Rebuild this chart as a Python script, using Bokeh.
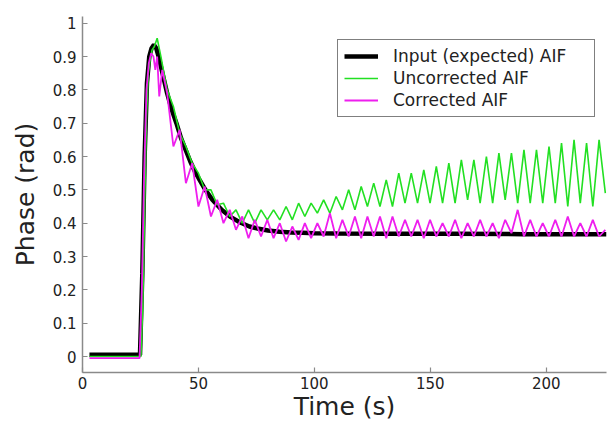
from bokeh.plotting import figure
from bokeh.models import Range1d, FixedTicker, CustomJSTickFormatter, Legend, LegendItem
from bokeh.embed import file_html
from bokeh.resources import INLINE

# ---------------- data ----------------
x_ticks = [0, 50, 100, 150, 200]
y_ticks = [0, 0.1, 0.2, 0.3, 0.4, 0.5, 0.6, 0.7, 0.8, 0.9, 1.0]

# Input (expected) AIF
t_expected = [3, 24.8, 25.8, 26.8, 27.8, 28.8, 29.8, 30.8, 31.8, 33, 34.5, 36.5, 38.5,
              40.5, 42.5, 44.5, 46.5, 48.5, 50.5, 53, 56, 60, 64, 68, 72, 76, 80, 85,
              90, 95, 100, 110, 130, 160, 190, 226]
y_expected = [0.005, 0.005, 0.25, 0.6, 0.82, 0.9, 0.925, 0.935, 0.925, 0.895, 0.85, 0.79,
              0.74, 0.70, 0.655, 0.62, 0.585, 0.555, 0.53, 0.50, 0.47, 0.44, 0.418, 0.402,
              0.39, 0.383, 0.378, 0.374, 0.372, 0.371, 0.37, 0.369, 0.368, 0.368, 0.367, 0.367]

# sampling times of the oscillating part
t_grid = [33.8, 36.5, 39.2, 41.9, 44.6, 47.3, 50.0, 52.7, 55.4, 58.1, 60.8, 63.5, 66.2,
          68.9, 71.6, 74.3, 77.0, 79.7, 82.4, 85.1, 87.8, 90.5, 93.2, 95.9, 98.6, 101.3,
          104.0, 106.7, 109.4, 112.1, 114.8, 117.5, 120.2, 122.9, 125.6, 128.3, 131.0,
          133.7, 136.4, 139.1, 141.8, 144.5, 147.2, 149.9, 152.6, 155.3, 158.0, 160.7,
          163.4, 166.1, 168.8, 171.5, 174.2, 176.9, 179.6, 182.3, 185.0, 187.7, 190.4,
          193.1, 195.8, 198.5, 201.2, 203.9, 206.6, 209.3, 212.0, 214.7, 217.4, 220.1,
          222.8, 225.5]

# Uncorrected AIF
t_uncorr_start = [3, 25.2, 26.0, 26.8, 27.6, 28.4, 29.2, 30.0, 31.0, 32.2]
y_uncorr_start = [0.0, 0.0, 0.15, 0.45, 0.72, 0.85, 0.89, 0.92, 0.93, 0.955]
y_uncorr_grid = [0.90, 0.80, 0.75, 0.67, 0.63, 0.58, 0.55, 0.50, 0.50, 0.455, 0.46, 0.42,
                 0.44, 0.40, 0.44, 0.40, 0.44, 0.41, 0.44, 0.41, 0.45, 0.41, 0.46, 0.42,
                 0.46, 0.43, 0.47, 0.43, 0.48, 0.44, 0.50, 0.44, 0.51, 0.45, 0.52, 0.45,
                 0.53, 0.45, 0.55, 0.46, 0.55, 0.46, 0.56, 0.46, 0.57, 0.46, 0.58, 0.46,
                 0.59, 0.47, 0.59, 0.46, 0.60, 0.46, 0.61, 0.47, 0.61, 0.46, 0.62, 0.46,
                 0.62, 0.46, 0.63, 0.46, 0.64, 0.45, 0.65, 0.46, 0.64, 0.45, 0.65, 0.49]

# Corrected AIF
t_corr_start = [3, 24.6, 25.6, 26.6, 27.6, 28.6, 29.6, 30.6, 31.4, 32.2, 33.1, 34.4]
y_corr_start = [-0.005, -0.005, 0.2, 0.55, 0.80, 0.88, 0.91, 0.90, 0.86, 0.90, 0.78, 0.86]
y_corr_grid = [0.79, 0.63, 0.68, 0.52, 0.58, 0.45, 0.51, 0.42, 0.47, 0.40, 0.44, 0.38,
               0.42, 0.355, 0.41, 0.36, 0.41, 0.355, 0.40, 0.345, 0.39, 0.35, 0.40, 0.355,
               0.40, 0.36, 0.43, 0.355, 0.41, 0.36, 0.42, 0.355, 0.42, 0.36, 0.42, 0.355,
               0.42, 0.36, 0.41, 0.36, 0.41, 0.355, 0.41, 0.36, 0.40, 0.36, 0.41, 0.355,
               0.40, 0.36, 0.41, 0.36, 0.40, 0.355, 0.41, 0.37, 0.44, 0.36, 0.41, 0.36,
               0.40, 0.36, 0.41, 0.36, 0.42, 0.36, 0.40, 0.36, 0.41, 0.36, 0.38]

t_uncorr = t_uncorr_start + t_grid
y_uncorr = y_uncorr_start + y_uncorr_grid
t_corr = t_corr_start + t_grid[1:]
y_corr = y_corr_start + y_corr_grid

# ---------------- figure ----------------
FONT = "DejaVu Sans"
AXIS_COLOR = "#8a8a8a"
TEXT_COLOR = "#222222"

p = figure(width=608, height=423, output_backend="svg", toolbar_location=None,
           x_range=Range1d(0, 226), y_range=Range1d(-0.048, 1.02),
           min_border_left=82, min_border_right=2, min_border_top=16, min_border_bottom=40)
p.outline_line_color = None
p.grid.visible = False
p.background_fill_color = "white"
p.border_fill_color = "white"

for ax in (p.xaxis[0], p.yaxis[0]):
    ax.axis_line_color = AXIS_COLOR
    ax.axis_line_width = 1.5
    ax.major_tick_line_color = AXIS_COLOR
    ax.major_tick_line_width = 1.2
    ax.major_tick_in = 5
    ax.major_tick_out = 0
    ax.minor_tick_in = 0
    ax.minor_tick_out = 0
    ax.major_label_text_font = FONT
    ax.major_label_text_font_size = "15px"
    ax.major_label_text_color = TEXT_COLOR
    ax.axis_label_text_font = FONT
    ax.axis_label_text_font_size = "25px"
    ax.axis_label_text_font_style = "normal"
    ax.axis_label_text_color = TEXT_COLOR

p.xaxis.ticker = FixedTicker(ticks=x_ticks)
p.yaxis.ticker = FixedTicker(ticks=y_ticks)
p.yaxis.formatter = CustomJSTickFormatter(code="return tick.toFixed(1).replace(/\\.0$/, '');")
p.xaxis.axis_label = "Time (s)"
p.yaxis.axis_label = "Phase (rad)"
p.xaxis.major_label_standoff = 4
p.xaxis.axis_label_standoff = 0
p.yaxis.major_label_standoff = 6
p.yaxis.axis_label_standoff = 10

r_exp = p.line(t_expected, y_expected, line_color="black", line_width=4.5)
r_unc = p.line(t_uncorr, y_uncorr, line_color="#22e022", line_width=1.6)
r_cor = p.line(t_corr, y_corr, line_color="#ee1eee", line_width=1.8)

legend = Legend(items=[
    LegendItem(label="Input (expected) AIF", renderers=[r_exp]),
    LegendItem(label="Uncorrected AIF", renderers=[r_unc]),
    LegendItem(label="Corrected AIF", renderers=[r_cor]),
], location=(255, 255))
legend.border_line_color = "black"
legend.border_line_width = 1.5
legend.background_fill_color = "white"
legend.background_fill_alpha = 1.0
legend.padding = 6
legend.spacing = 2
legend.margin = 0
legend.glyph_width = 34
legend.glyph_height = 20
legend.label_height = 20
legend.label_width = 195
legend.label_standoff = 15
legend.label_text_font = FONT
legend.label_text_font_size = "17px"
legend.label_text_color = TEXT_COLOR
p.add_layout(legend, "center")

open("out.html", "w").write(file_html(p, INLINE))
